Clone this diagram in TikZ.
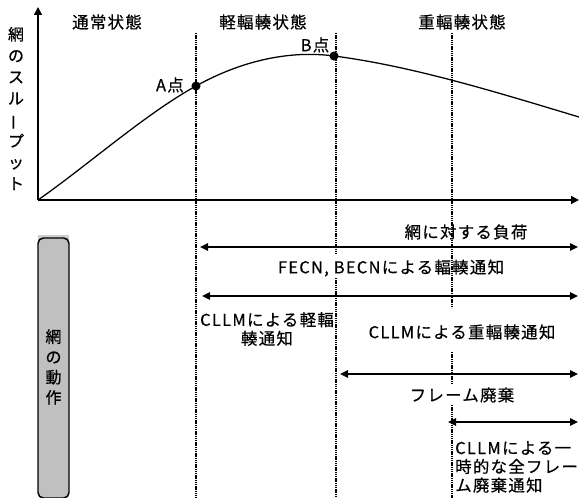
\documentclass[tikz,border=0pt]{standalone}
\usepackage{fontspec}
\usepackage{graphicx}
\setmainfont[FakeBold=0.5]{Noto Sans CJK JP}
\newfontfamily\jp[LetterSpace=8,FakeBold=0.5]{Noto Sans CJK JP}
\usetikzlibrary{arrows.meta}
\definecolor{boxgray}{HTML}{C0C0C0}
\definecolor{boxlight}{HTML}{CCCCCC}
\begin{document}
\begin{tikzpicture}[x=0.75pt,y=-0.75pt,
  txt/.style={inner sep=0pt, font=\jp\fontsize{12.3pt}{14pt}\selectfont},
  vtxt/.style={inner sep=0pt, align=center},
  axis/.style={line width=1.1pt},
  axtip/.style={-{Triangle[length=6pt,width=6pt]}},
  dblarrow/.style={line width=1.1pt, {Triangle[length=6pt,width=5.5pt]}-{Triangle[length=6pt,width=5.5pt]}},
  boundary/.style={line width=1.3pt, dash pattern=on 1.1pt off 0.55pt},
  curve/.style={line width=0.95pt},
  dot/.style={circle, fill=black, inner sep=0pt, minimum size=6.8pt},
  actbox/.style={draw=black, line width=1.1pt, fill=boxgray, rounded corners=4pt,
    minimum width=23.25pt, minimum height=195pt, inner sep=0pt}
]
\useasboundingbox (0,0) rectangle (579,498);

% axes
\coordinate (O) at (38,200);
\coordinate (Ytop) at (38,7);
\coordinate (Xend) at (579,200);
\draw[axis,axtip] (O) -- (Ytop);
\draw[axis,axtip] (O) -- (Xend);

% state boundaries
\coordinate (d1t) at (196,33); \coordinate (d1b) at (196,498);
\coordinate (d2t) at (336,33); \coordinate (d2a) at (336,255);
\coordinate (d2c) at (336,278); \coordinate (d2b) at (336,498);
\coordinate (d3t) at (452,33); \coordinate (d3a) at (452,308);
\coordinate (d3c) at (452,352); \coordinate (d3d) at (452,383);
\coordinate (d3e) at (452,405); \coordinate (d3b) at (452,498);
\draw[boundary] (d1t) -- (d1b);
\draw[boundary] (d2t) -- (d2a);
\draw[boundary] (d2c) -- (d2b);
\draw[boundary] (d3t) -- (d3a);
\draw[boundary] (d3c) -- (d3d);
\draw[boundary] (d3e) -- (d3b);

% throughput curve
\node[dot] (A) at (196,86) {};
\node[dot] (B) at (334,56) {};
\coordinate (E) at (579,117);
\draw[curve] (O) .. controls (88,165) and (146,113.5) .. (A.center)
  .. controls (241,61) and (289,50) .. (B.center)
  .. controls (414,66.4) and (499,93) .. (E);
\node[txt, anchor=east] (Alab) at (184,85) {A点};
\node[txt] (Blab) at (315,45) {B点};

% state labels
\node[txt] (s1) at (107,22) {通常状態};
\node[txt] (s2) at (263,22) {軽輻輳状態};
\node[txt] (s3) at (462,22) {重輻輳状態};

% axis labels
\node[vtxt, font=\fontsize{12pt}{16pt}\selectfont] (ylab) at (16,108.5)
  {網\\の\\ス\\ル\\\rotatebox[origin=c]{90}{ー}\\プ\\ッ\\ト};
\node[txt] (load) at (466,232) {網に対する負荷};

% network action box
\fill[boxlight] (38,235) rectangle (69,242);
\node[actbox] (act) at (53.5,368) {};
\node[vtxt, font=\fontsize{12pt}{15.2pt}\selectfont] (actlab) at (53.5,367) {網\\の\\動\\作};

% action ranges
\coordinate (a1l) at (200,247); \coordinate (a1r) at (578,247);
\coordinate (a2l) at (202,296); \coordinate (a2r) at (578,296);
\coordinate (a3l) at (340,374); \coordinate (a3r) at (578,374);
\coordinate (a4l) at (448,422); \coordinate (a4r) at (578,422);
\draw[dblarrow] (a1l) -- (a1r);
\draw[dblarrow] (a2l) -- (a2r);
\draw[dblarrow] (a3l) -- (a3r);
\draw[dblarrow] (a4l) -- (a4r);

\node[txt] (fecn) at (391,268) {FECN, BECNによる輻輳通知};
\node[txt, align=center] (light) at (267,329) {CLLMによる軽輻\\輳通知};
\node[txt] (heavy) at (462,332) {CLLMによる重輻輳通知};
\node[txt] (drop) at (462,395) {フレーム廃棄};
\node[txt, align=left, anchor=west] (all) at (455,467) {CLLMによる一\\時的な全フレー\\ム廃棄通知};
\end{tikzpicture}
\end{document}
